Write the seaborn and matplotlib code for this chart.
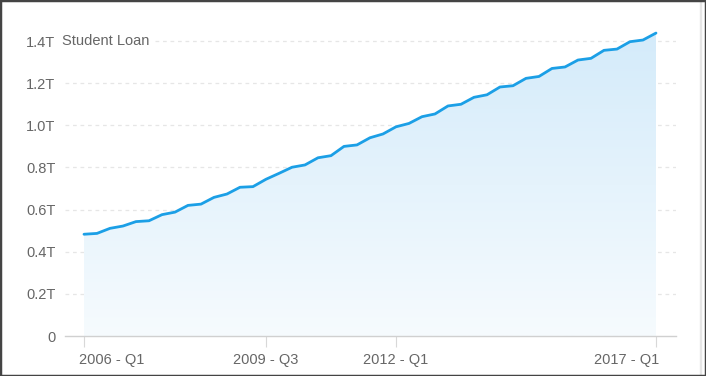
import numpy as np
import pandas as pd
import matplotlib
matplotlib.use('Agg')
import matplotlib.pyplot as plt
import matplotlib.transforms as mtransforms
import seaborn as sns
from matplotlib.patches import Rectangle

# student loan balance, trillions, quarterly 2006 Q1 .. 2017 Q1
quarters = [f'{y} - Q{q}' for y in range(2006, 2018) for q in range(1, 5)][:45]
balance = [0.483, 0.487, 0.511, 0.522, 0.543, 0.547, 0.576, 0.588, 0.620, 0.626,
           0.658, 0.674, 0.706, 0.709, 0.744, 0.772, 0.801, 0.812, 0.846, 0.856,
           0.900, 0.907, 0.941, 0.959, 0.993, 1.009, 1.041, 1.054, 1.092, 1.100,
           1.133, 1.145, 1.182, 1.188, 1.223, 1.232, 1.270, 1.277, 1.310, 1.318,
           1.356, 1.362, 1.397, 1.405, 1.438]
tick_quarters = ['2006 - Q1', '2009 - Q3', '2012 - Q1', '2017 - Q1']
y_ticks = [0, 0.2, 0.4, 0.6, 0.8, 1.0, 1.2, 1.4]
y_labels = ['0', '0.2T', '0.4T', '0.6T', '0.8T', '1.0T', '1.2T', '1.4T']

df = pd.DataFrame({'quarter': quarters, 'balance': balance})
df['idx'] = np.arange(len(df))

sns.set_style('white')
plt.rcParams['font.family'] = ['Liberation Sans', 'DejaVu Sans']

line_col = '#1b9fe6'
text_col = '#666666'

fig = plt.figure(figsize=(7.06, 3.76), dpi=100)
ax = fig.add_axes([65 / 706, 40 / 376, 611 / 706, 316 / 376])

# gradient fill under the line
poly = ax.fill_between(df['idx'], df['balance'], 0, color='none', lw=0)
grad = np.linspace(0, 1, 256).reshape(-1, 1)
cmap = matplotlib.colors.LinearSegmentedColormap.from_list(
    'fade', ['#f6fbfe', '#d4ebfa'])
img = ax.imshow(grad, cmap=cmap, aspect='auto', origin='lower',
                extent=[0, len(df) - 1, 0, max(balance)], zorder=1)
img.set_clip_path(poly.get_paths()[0], transform=ax.transData)

sns.lineplot(data=df, x='idx', y='balance', ax=ax, color=line_col,
             linewidth=2, zorder=3)

ax.set_xlim(-1.46, 45.54)
ax.set_ylim(0, 1.5)
ax.set_yticks(y_ticks)
ax.set_yticklabels(y_labels)
ax.set_xticks([quarters.index(q) for q in tick_quarters])
ax.set_xticklabels(tick_quarters)

for v in y_ticks[1:]:
    x0 = 0.147 if v == 1.4 else 0.0
    ax.axhline(v, xmin=x0, color='#e6e6e6', lw=0.9, ls=(0, (3, 3)), zorder=0)

for s in ['top', 'right', 'left']:
    ax.spines[s].set_visible(False)
ax.spines['bottom'].set_color('#d0d0d0')
ax.spines['bottom'].set_linewidth(1)

ax.tick_params(axis='y', length=0, pad=7, labelsize=10.5, labelcolor=text_col)
ax.tick_params(axis='x', bottom=True, length=8, width=0.8, color='#d8d8d8',
               pad=4, labelsize=10.5, labelcolor=text_col)
ax.set_xlabel('')
ax.set_ylabel('')

# keep end labels inside the plot area
labels = ax.get_xticklabels()
labels[0].set_horizontalalignment('left')
labels[0].set_transform(labels[0].get_transform() +
                        mtransforms.ScaledTranslation(-5 / 100, 0, fig.dpi_scale_trans))
labels[-1].set_horizontalalignment('right')
labels[-1].set_transform(labels[-1].get_transform() +
                         mtransforms.ScaledTranslation(3 / 100, 0, fig.dpi_scale_trans))

ax.text(-1.69, 1.4, 'Student Loan', ha='left', va='center',
        fontsize=10.5, color=text_col)

# frame around the image
fig.patches.append(Rectangle((699.5 / 706, 0), 1.5 / 706, 1, transform=fig.transFigure,
                             color='#e6e6e6', zorder=0))
fig.patches.append(Rectangle((0, 0), 1, 1, transform=fig.transFigure,
                             fill=False, ec='#444444', lw=2.5))

fig.savefig('out.png', dpi=100)
